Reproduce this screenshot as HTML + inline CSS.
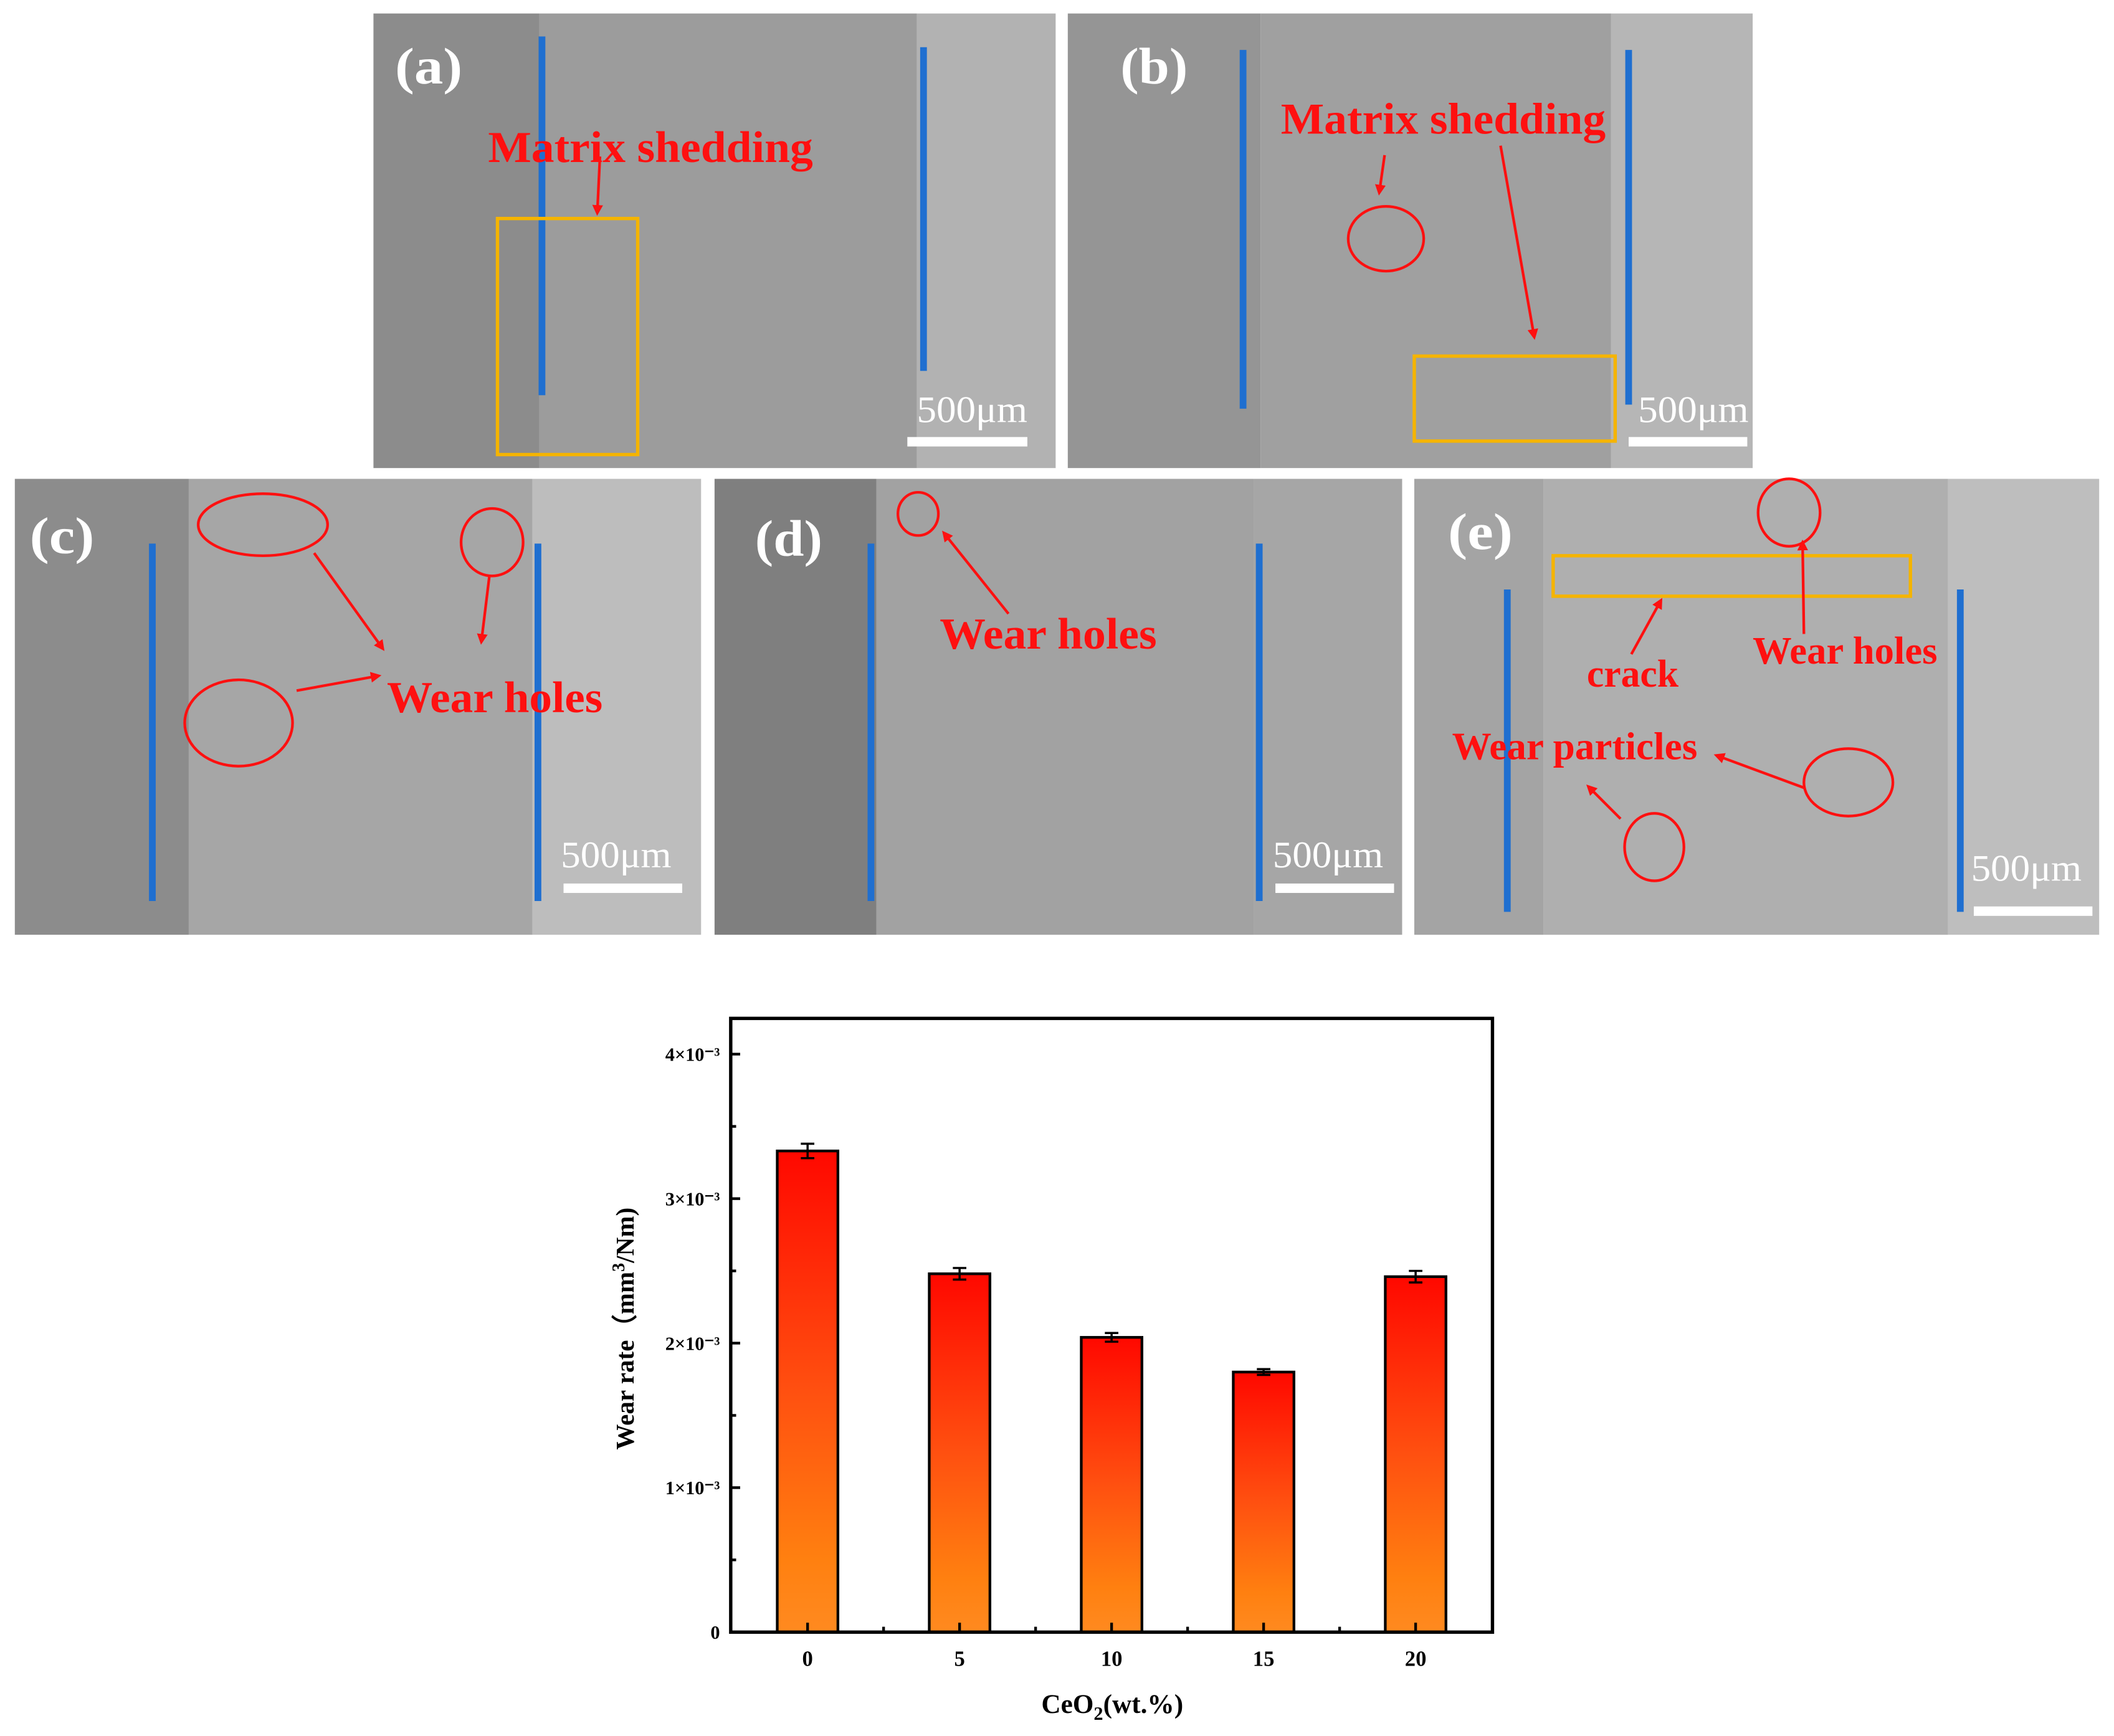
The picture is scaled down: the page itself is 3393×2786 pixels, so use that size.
<!DOCTYPE html>
<html><head><meta charset="utf-8"><style>
html,body{margin:0;padding:0;background:#fff;}
svg{display:block;}
text{font-family:"Liberation Serif",serif;font-weight:bold;}
</style></head><body>
<svg id="root" width="3393" height="2786" viewBox="0 0 1568 1287" preserveAspectRatio="none" xmlns="http://www.w3.org/2000/svg">
<defs>
<linearGradient id="barg" x1="0" y1="0" x2="0" y2="1">
<stop offset="0" stop-color="#ff0800"/><stop offset="0.5" stop-color="#ff5010"/><stop offset="0.85" stop-color="#ff8010"/><stop offset="1" stop-color="#ff8a20"/>
</linearGradient>
<marker id="ah" markerWidth="8" markerHeight="8" refX="6" refY="4" orient="auto" markerUnits="userSpaceOnUse"><path d="M0,0 L8,4 L0,8 Z" fill="#ff1010"/></marker>
</defs>

<g>
<rect x="277" y="10" width="123" height="337" fill="#8c8c8c"/>
<rect x="400" y="10" width="280" height="337" fill="#9c9c9c"/>
<rect x="680" y="10" width="103" height="337" fill="#b2b2b2"/>
<line x1="402" y1="27" x2="402" y2="293" stroke="#1f6fd0" stroke-width="5"/>
<line x1="685" y1="35" x2="685" y2="275" stroke="#1f6fd0" stroke-width="5"/>
<text x="293" y="62" fill="#fff" font-size="38" textLength="50" lengthAdjust="spacingAndGlyphs">(a)</text>
<text x="362" y="120" fill="#ff1010" font-size="33" textLength="241" lengthAdjust="spacingAndGlyphs">Matrix shedding</text>
<line x1="445" y1="116" x2="443" y2="158" stroke="#ff1010" stroke-width="2" marker-end="url(#ah)"/>
<rect x="369" y="162" width="104" height="175" fill="none" stroke="#f5b400" stroke-width="2.5"/>
<text x="680" y="313" fill="#fff" font-size="28" textLength="82" lengthAdjust="spacingAndGlyphs" style="font-weight:normal">500μm</text>
<rect x="673" y="324" width="89" height="7" fill="#fff"/>
</g>

<g>
<rect x="792" y="10" width="143" height="337" fill="#959595"/>
<rect x="935" y="10" width="260" height="337" fill="#a0a0a0"/>
<rect x="1195" y="10" width="105" height="337" fill="#b6b6b6"/>
<line x1="922" y1="37" x2="922" y2="303" stroke="#1f6fd0" stroke-width="5"/>
<line x1="1208" y1="37" x2="1208" y2="300" stroke="#1f6fd0" stroke-width="5"/>
<text x="831" y="62" fill="#fff" font-size="38" textLength="50" lengthAdjust="spacingAndGlyphs">(b)</text>
<text x="950" y="99" fill="#ff1010" font-size="33" textLength="241" lengthAdjust="spacingAndGlyphs">Matrix shedding</text>
<ellipse cx="1028" cy="177" rx="28" ry="24" fill="none" stroke="#ff1010" stroke-width="2"/>
<line x1="1027" y1="115" x2="1023" y2="143" stroke="#ff1010" stroke-width="2" marker-end="url(#ah)"/>
<line x1="1113" y1="108" x2="1138" y2="250" stroke="#ff1010" stroke-width="2" marker-end="url(#ah)"/>
<rect x="1049" y="264" width="149" height="63" fill="none" stroke="#f5b400" stroke-width="2.5"/>
<text x="1215" y="313" fill="#fff" font-size="28" textLength="82" lengthAdjust="spacingAndGlyphs" style="font-weight:normal">500μm</text>
<rect x="1208" y="324" width="88" height="7" fill="#fff"/>
</g>

<g>
<rect x="11" y="355" width="129" height="338" fill="#8c8c8c"/>
<rect x="140" y="355" width="255" height="338" fill="#a6a6a6"/>
<rect x="395" y="355" width="125" height="338" fill="#bdbdbd"/>
<line x1="113" y1="403" x2="113" y2="668" stroke="#1f6fd0" stroke-width="5"/>
<line x1="399" y1="403" x2="399" y2="668" stroke="#1f6fd0" stroke-width="5"/>
<text x="22" y="410" fill="#fff" font-size="38" textLength="48" lengthAdjust="spacingAndGlyphs">(c)</text>
<ellipse cx="195" cy="389" rx="48" ry="23" fill="none" stroke="#ff1010" stroke-width="2"/>
<ellipse cx="365" cy="402" rx="23" ry="25" fill="none" stroke="#ff1010" stroke-width="2"/>
<ellipse cx="177" cy="536" rx="40" ry="32" fill="none" stroke="#ff1010" stroke-width="2"/>
<line x1="233" y1="410" x2="284" y2="481" stroke="#ff1010" stroke-width="2" marker-end="url(#ah)"/>
<line x1="363" y1="427" x2="357" y2="476" stroke="#ff1010" stroke-width="2" marker-end="url(#ah)"/>
<line x1="220" y1="512" x2="281" y2="501" stroke="#ff1010" stroke-width="2" marker-end="url(#ah)"/>
<text x="287" y="528" fill="#ff1010" font-size="33" textLength="160" lengthAdjust="spacingAndGlyphs">Wear holes</text>
<text x="416" y="643" fill="#fff" font-size="28" textLength="82" lengthAdjust="spacingAndGlyphs" style="font-weight:normal">500μm</text>
<rect x="418" y="655" width="88" height="7" fill="#fff"/>
</g>

<g>
<rect x="530" y="355" width="120" height="338" fill="#7f7f7f"/>
<rect x="650" y="355" width="280" height="338" fill="#a2a2a2"/>
<rect x="930" y="355" width="110" height="338" fill="#a6a6a6"/>
<line x1="646" y1="403" x2="646" y2="668" stroke="#1f6fd0" stroke-width="5"/>
<line x1="934" y1="403" x2="934" y2="668" stroke="#1f6fd0" stroke-width="5"/>
<text x="560" y="412" fill="#fff" font-size="38" textLength="50" lengthAdjust="spacingAndGlyphs">(d)</text>
<ellipse cx="681" cy="381" rx="15" ry="16" fill="none" stroke="#ff1010" stroke-width="2"/>
<line x1="748" y1="455" x2="700" y2="395" stroke="#ff1010" stroke-width="2" marker-end="url(#ah)"/>
<text x="697" y="481" fill="#ff1010" font-size="33" textLength="161" lengthAdjust="spacingAndGlyphs">Wear holes</text>
<text x="944" y="643" fill="#fff" font-size="28" textLength="82" lengthAdjust="spacingAndGlyphs" style="font-weight:normal">500μm</text>
<rect x="946" y="655" width="88" height="7" fill="#fff"/>
</g>

<g>
<rect x="1049" y="355" width="96" height="338" fill="#a4a4a4"/>
<rect x="1145" y="355" width="300" height="338" fill="#afafaf"/>
<rect x="1445" y="355" width="112" height="338" fill="#bebebe"/>
<line x1="1118" y1="437" x2="1118" y2="676" stroke="#1f6fd0" stroke-width="5"/>
<line x1="1454" y1="437" x2="1454" y2="676" stroke="#1f6fd0" stroke-width="5"/>
<text x="1074" y="407" fill="#fff" font-size="38" textLength="48" lengthAdjust="spacingAndGlyphs">(e)</text>
<ellipse cx="1327" cy="380" rx="23" ry="25" fill="none" stroke="#ff1010" stroke-width="2"/>
<rect x="1152" y="412" width="265" height="30" fill="none" stroke="#f5b400" stroke-width="2.5"/>
<ellipse cx="1371" cy="580" rx="33" ry="25" fill="none" stroke="#ff1010" stroke-width="2"/>
<ellipse cx="1227" cy="628" rx="22" ry="25" fill="none" stroke="#ff1010" stroke-width="2"/>
<line x1="1210" y1="485" x2="1232" y2="445" stroke="#ff1010" stroke-width="2" marker-end="url(#ah)"/>
<line x1="1338" y1="470" x2="1337" y2="402" stroke="#ff1010" stroke-width="2" marker-end="url(#ah)"/>
<line x1="1338" y1="584" x2="1273" y2="560" stroke="#ff1010" stroke-width="2" marker-end="url(#ah)"/>
<line x1="1202" y1="607" x2="1178" y2="583" stroke="#ff1010" stroke-width="2" marker-end="url(#ah)"/>
<text x="1177" y="509" fill="#ff1010" font-size="29" textLength="68" lengthAdjust="spacingAndGlyphs">crack</text>
<text x="1300" y="492" fill="#ff1010" font-size="29" textLength="137" lengthAdjust="spacingAndGlyphs">Wear holes</text>
<text x="1077" y="563" fill="#ff1010" font-size="29" textLength="182" lengthAdjust="spacingAndGlyphs">Wear particles</text>
<text x="1462" y="653" fill="#fff" font-size="28" textLength="82" lengthAdjust="spacingAndGlyphs" style="font-weight:normal">500μm</text>
<rect x="1464" y="672" width="88" height="7" fill="#fff"/>
</g>

<g id="chart"></g>
</svg>
<script>
const categories = ["0","5","10","15","20"];
const wearRate = [3.33, 2.48, 2.04, 1.80, 2.46];
const wearErr = [0.05, 0.04, 0.03, 0.02, 0.04];
const yTicks = [0, 1, 2, 3, 4];
const yTickLabels = ["0","1×10⁻³","2×10⁻³","3×10⁻³","4×10⁻³"];

const NS = "http://www.w3.org/2000/svg";
const g = document.getElementById("chart");
const L = 542, R = 1107, T = 755, B = 1210;
const x0 = 599, xStep = (1050 - 599) / 4;
function xPos(i){ return x0 + i * xStep; }
function yPos(v){ return B - v * (1210 - 781.5) / 4; }
function mk(tag, attrs, parent){ const e = document.createElementNS(NS, tag); for (const k in attrs) e.setAttribute(k, attrs[k]); (parent||g).appendChild(e); return e; }

const bw = 45;
categories.forEach((c, i) => {
  const cx = xPos(i), top = yPos(wearRate[i]);
  const bar = mk("rect", {x: cx - bw/2, y: top, width: bw, height: B - top, fill: "url(#barg)", stroke: "#000", "stroke-width": 2});
  
  
  const eh = yPos(wearRate[i] + wearErr[i]), el = yPos(wearRate[i] - wearErr[i]);
  const eb = mk("path", {d: `M${cx},${eh}V${el}M${cx-5},${eh}H${cx+5}M${cx-5},${el}H${cx+5}`, stroke: "#000", "stroke-width": 1.6, fill: "none"});
  
  
  mk("line", {x1: cx, y1: B, x2: cx, y2: B - 7, stroke: "#000", "stroke-width": 2});
  if (i < categories.length - 1) mk("line", {x1: cx + xStep/2, y1: B, x2: cx + xStep/2, y2: B - 4, stroke: "#000", "stroke-width": 2});
  const t = mk("text", {x: cx, y: B + 25, "text-anchor": "middle", "font-size": 16});
  t.textContent = c;
  
  
});

yTicks.forEach((v, i) => {
  const y = yPos(v);
  mk("line", {x1: L, y1: y, x2: L + 7, y2: y, stroke: "#000", "stroke-width": 2});
  if (i < yTicks.length - 1) mk("line", {x1: L, y1: yPos(v + 0.5), x2: L + 4, y2: yPos(v + 0.5), stroke: "#000", "stroke-width": 2});
  const t = mk("text", {x: L - 8, y: y + 5, "text-anchor": "end", "font-size": 14});
  t.textContent = yTickLabels[i];
  
  
});

const frame = mk("rect", {x: L, y: T, width: R - L, height: B - T, fill: "none", stroke: "#000", "stroke-width": 2.5});



const xt = mk("text", {x: 825, y: 1270, "text-anchor": "middle", "font-size": 20});
xt.innerHTML = 'CeO<tspan font-size="14" dy="5">2</tspan><tspan dy="-5">(wt.%)</tspan>';



const yt = mk("text", {x: 0, y: 0, "text-anchor": "middle", "font-size": 19, transform: "translate(470,985) rotate(-90)"});
yt.innerHTML = 'Wear rate（mm<tspan font-size="13" dy="-7">3</tspan><tspan dy="7">/Nm)</tspan>';


</script>
</body></html>
